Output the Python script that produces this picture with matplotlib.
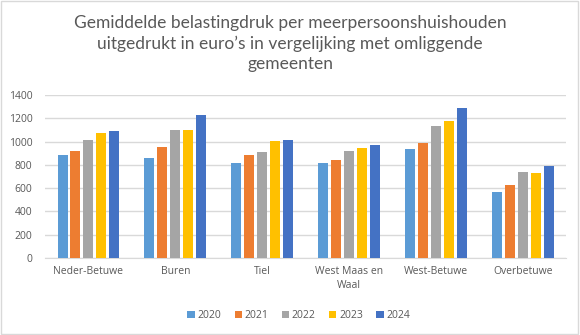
import matplotlib
matplotlib.use("Agg")
import matplotlib.pyplot as plt
import numpy as np
from matplotlib.patches import Rectangle

categories = ["Neder-Betuwe", "Buren", "Tiel", "West Maas en\nWaal", "West-Betuwe", "Overbetuwe"]
years = ["2020", "2021", "2022", "2023", "2024"]
v2020 = [887, 862, 819, 819, 939, 570]
v2021 = [916, 956, 887, 845, 991, 630]
v2022 = [1016, 1102, 913, 922, 1137, 742]
v2023 = [1076, 1102, 1008, 948, 1180, 733]
v2024 = [1094, 1231, 1016, 973, 1291, 793]
series = [v2020, v2021, v2022, v2023, v2024]
colors = ["#5B9BD5", "#ED7D31", "#A5A5A5", "#FFC000", "#4472C4"]
title = "Gemiddelde belastingdruk per meerpersoonshuishouden\nuitgedrukt in euro\u2019s in vergelijking met omliggende\ngemeenten"

plt.rcParams['font.family'] = ['Open Sans', 'DejaVu Sans']
fig = plt.figure(figsize=(5.8, 3.35), dpi=100)
ax = fig.add_axes([0.0776, 0.2299, 0.8984, 0.4865])

x = np.arange(len(categories))
pitch = 0.149
width = 0.115
for i, (vals, c) in enumerate(zip(series, colors)):
    ax.bar(x + (i - 2) * pitch, vals, width=width, color=c, label=years[i], zorder=3)

ax.set_xlim(-0.5, len(categories) - 0.5)
ax.set_ylim(0, 1400)
ax.set_yticks(range(0, 1401, 200))
ax.yaxis.grid(True, color="#D9D9D9", linewidth=1, zorder=0)
for s in ["top", "right", "left"]:
    ax.spines[s].set_visible(False)
ax.spines["bottom"].set_color("#D9D9D9")
ax.tick_params(axis="both", length=0, labelsize=7.5, labelcolor="#595959")
ax.tick_params(axis="y", pad=9)
ax.tick_params(axis="x", pad=6)
ax.set_xticks(x)
ax.set_xticklabels(categories, linespacing=1.3)

fig.text(0.5, 0.955, title, ha="center", va="top", fontsize=12.5, color="#595959",
         linespacing=1.32, family=["Lato", "DejaVu Sans"])

fig.legend(loc="center", bbox_to_anchor=(0.515, 0.057), ncol=5, frameon=False,
           fontsize=7.5, labelcolor="#595959", handlelength=0.7, handleheight=0.7,
           columnspacing=1.3, handletextpad=0.25)

fig.patches.append(Rectangle((0.002, 0.003), 0.994, 0.994, transform=fig.transFigure,
                             fill=False, edgecolor="#D9D9D9", linewidth=1))
fig.savefig("out.png", dpi=100)
